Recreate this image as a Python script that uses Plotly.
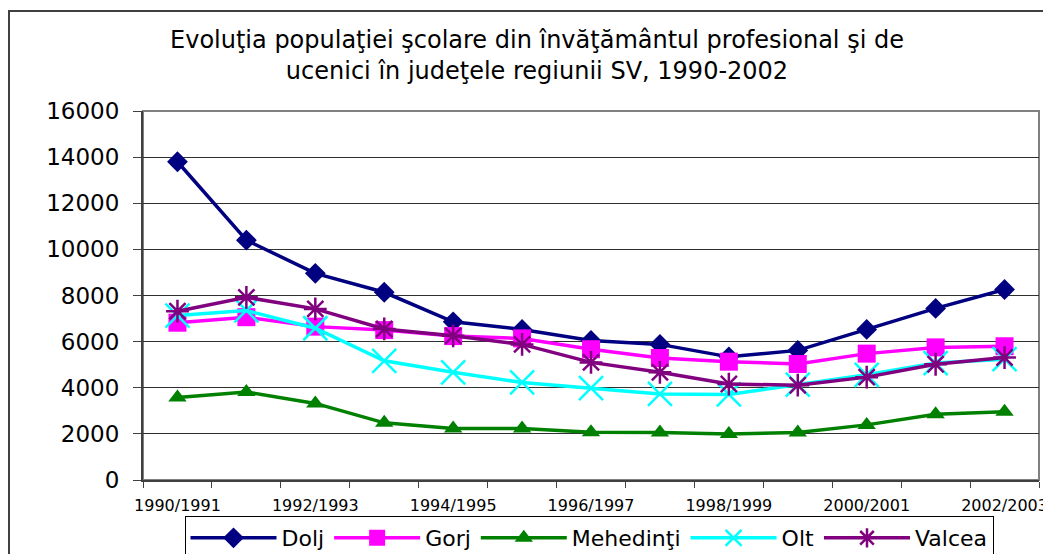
import plotly.graph_objects as go

categories = ['1990/1991', '1991/1992', '1992/1993', '1993/1994', '1994/1995', '1995/1996',
              '1996/1997', '1997/1998', '1998/1999', '1999/2000', '2000/2001', '2001/2002', '2002/2003']
dolj = [13800, 10400, 8960, 8140, 6860, 6530, 6050, 5880, 5340, 5620, 6530, 7440, 8260]
gorj = [6820, 7060, 6650, 6500, 6240, 6140, 5670, 5290, 5130, 5030, 5480, 5750, 5800]
mehedinti = [3580, 3820, 3320, 2480, 2230, 2230, 2070, 2060, 1990, 2060, 2390, 2850, 2960]
olt = [7130, 7350, 6580, 5170, 4670, 4230, 3980, 3730, 3710, 4140, 4560, 5070, 5240]
valcea = [7320, 7920, 7420, 6550, 6250, 5880, 5100, 4670, 4160, 4110, 4460, 5020, 5310]
tick_labels = [c if i % 2 == 0 else '' for i, c in enumerate(categories)]

FONT = 'DejaVu Sans'

series = [
    ('Dolj', dolj, '#000080', dict(symbol='diamond', size=16)),
    ('Gorj', gorj, '#FF00FF', dict(symbol='square', size=18)),
    ('Mehedinţi', mehedinti, '#008000', dict(symbol='triangle-up', size=16)),
    ('Olt', olt, '#00FFFF', dict(symbol='x-thin', size=24, line=dict(width=2.5, color='#00FFFF'))),
    ('Valcea', valcea, '#800080', dict(symbol='asterisk', size=19, line=dict(width=2.5, color='#800080'))),
]

fig = go.Figure()
for name, vals, color, mk in series:
    mk = dict(mk)
    mk['color'] = color
    fig.add_trace(go.Scatter(x=categories, y=vals, name=name, mode='lines+markers',
                             line=dict(color=color, width=3.5), marker=mk))

# page body has an 8px margin: work in page pixels, convert to figure pixels
OFF = 8
W, H = 1051 - OFF, 554 - OFF
PL, PR, PT, PB = 143, 1039, 111, 480  # plot area in page pixels
L, R, T, B = PL - OFF, W - (PR - OFF), PT - OFF, H - (PB - OFF)
pw, ph = W - L - R, H - T - B

def px(xp):
    return (xp - OFF - L) / pw

def py(yp):
    return (H - B - (yp - OFF)) / ph

fig.update_layout(
    width=W, height=H,
    margin=dict(l=L, r=R, t=T, b=B, autoexpand=False),
    paper_bgcolor='white', plot_bgcolor='white',
    font=dict(family=FONT, color='black'),
    title=dict(text='Evoluţia populaţiei şcolare din învăţământul profesional şi de<br>ucenici în judeţele regiunii SV, 1990-2002',
               x=px(537), xref='paper', xanchor='center',
               y=1 - 40 / H, yref='container', yanchor='top',
               font=dict(family=FONT, size=24, color='black')),
    showlegend=True,
    legend=dict(orientation='h', x=px(589), xanchor='center', y=py(516), yanchor='top',
                bordercolor='black', borderwidth=1, bgcolor='white',
                font=dict(family=FONT, size=22, color='black'),
                itemwidth=86, tracegroupgap=0),
    shapes=[
        dict(type='rect', xref='paper', yref='paper', x0=0, x1=1, y0=0, y1=1,
             line=dict(color='#808080', width=2), layer='below'),
        dict(type='rect', xref='paper', yref='paper', x0=px(9), x1=px(1090), y0=py(11), y1=py(600),
             line=dict(color='#404040', width=2), layer='below'),
    ],
)

fig.update_xaxes(type='category', tickmode='array', tickvals=categories, ticktext=tick_labels,
                 tickson='boundaries', ticks='outside', ticklen=6, tickcolor='#404040', tickwidth=1,
                 showline=True, linecolor='#404040', linewidth=2, showgrid=False,
                 tickfont=dict(family=FONT, size=16, color='black'), ticklabelstandoff=10,
                 tickangle=0, automargin=False, range=[-0.5, 12.5])
fig.update_yaxes(range=[0, 16000], dtick=2000, tick0=0, ticks='outside', ticklen=8,
                 tickformat='d',
                 tickcolor='#404040', showline=True, linecolor='#404040', linewidth=2,
                 showgrid=True, gridcolor='#303030', gridwidth=1, zeroline=False,
                 tickfont=dict(family=FONT, size=23, color='black'), ticklabelstandoff=9,
                 automargin=False)

fig.write_html('out.html')
